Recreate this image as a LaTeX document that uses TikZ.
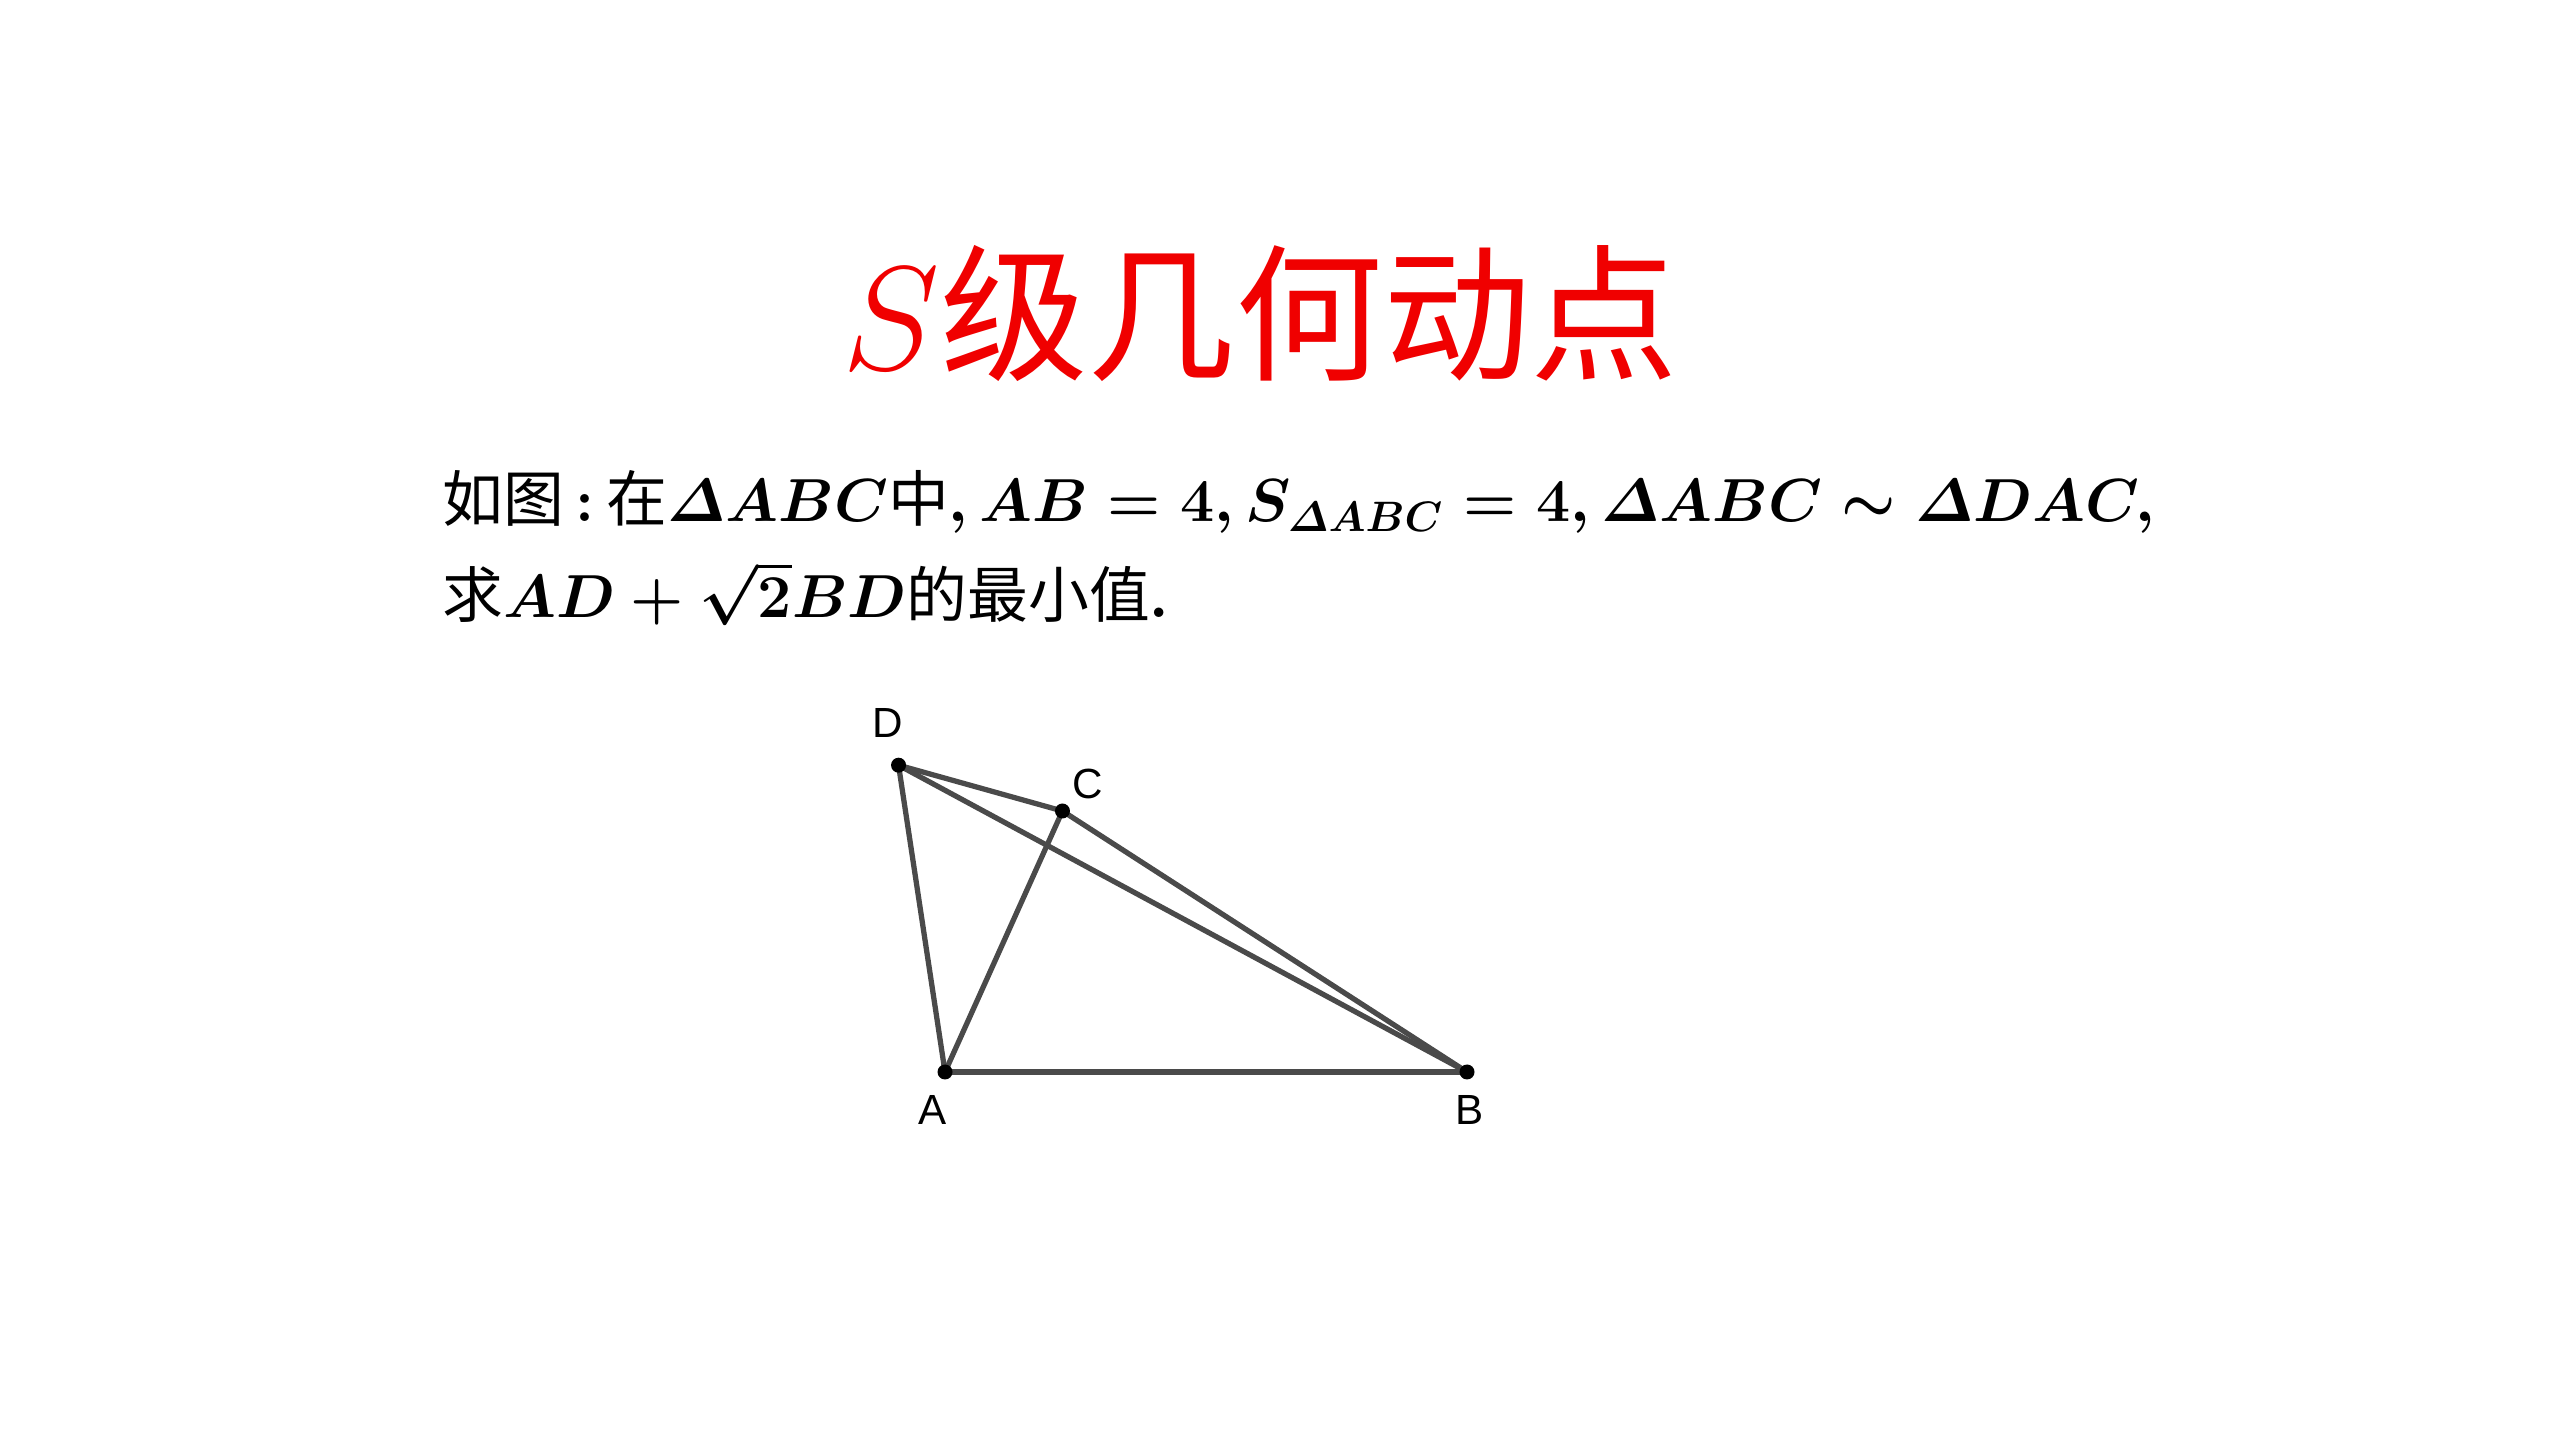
\RequirePackage{fix-cm}
\documentclass[tikz,border=0pt]{standalone}
\usepackage{amsmath}
\usepackage{fontspec}
\setmainfont{Noto Sans CJK SC}
\newfontfamily\lab{Liberation Sans}
\usetikzlibrary{calc}
\definecolor{seg}{HTML}{4A4A4A}
\definecolor{ttl}{HTML}{F00000}
\newsavebox\myBoxOne
\newsavebox\myBoxTwo
\sbox\myBoxOne{\fontsize{17.3}{21}\selectfont{\boldmath 如图$\,:\,$在$\varDelta ABC$中$, AB=4, S_{\varDelta ABC}=4, \varDelta ABC\sim\varDelta DAC,$}}
\sbox\myBoxTwo{\fontsize{17.3}{21}\selectfont{\boldmath 求$AD+\sqrt{2}BD$的最小值$.$}}
\begin{document}
\begin{tikzpicture}[x=1cm,y=1cm,
  segline/.style={draw=seg,line width=1.5pt,line cap=round,line join=round},
  ptlabel/.style={font=\lab\fontsize{12}{14}\selectfont,inner sep=0pt},
  ptdot/.style={circle,fill=black,inner sep=0pt,minimum size=0.15cm},
  txtline/.style={anchor=base west,inner sep=0pt}]
\useasboundingbox (0,0) rectangle (25.6,14.4);
\fill[white] (0,0) rectangle (25.6,14.4);
\node[text=ttl,font=\fontsize{42}{50}\selectfont,inner sep=0pt,anchor=base west] (title) at (8.42,10.70) {$S$级几何动点};
\node[txtline] (l1) at (4.42,9.18) {\usebox\myBoxOne};
\node[txtline] (l2) at (4.42,8.22) {\usebox\myBoxTwo};
\begin{scope}[shift={(9.45,3.68)},scale=1.305]
  \coordinate (A) at (0,0);
  \coordinate (B) at (4,0);
  \coordinate (C) at (0.9,2);
  \coordinate (D) at (-0.356,2.351);
\end{scope}
\draw[segline] (A) -- (B);
\draw[segline] (A) -- (C);
\draw[segline] (A) -- (D);
\draw[segline] (D) -- (C);
\draw[segline] (C) -- (B);
\draw[segline] (D) -- (B);
\node[ptdot] (dA) at (A) {};
\node[ptdot] (dB) at (B) {};
\node[ptdot] (dC) at (C) {};
\node[ptdot] (dD) at (D) {};
\node[ptlabel] (lA) at ($(A)+(-0.12,-0.38)$) {A};
\node[ptlabel] (lB) at ($(B)+(0.03,-0.38)$) {B};
\node[ptlabel] (lC) at ($(C)+(0.25,0.27)$) {C};
\node[ptlabel] (lD) at ($(D)+(-0.11,0.42)$) {D};
\end{tikzpicture}
\end{document}
